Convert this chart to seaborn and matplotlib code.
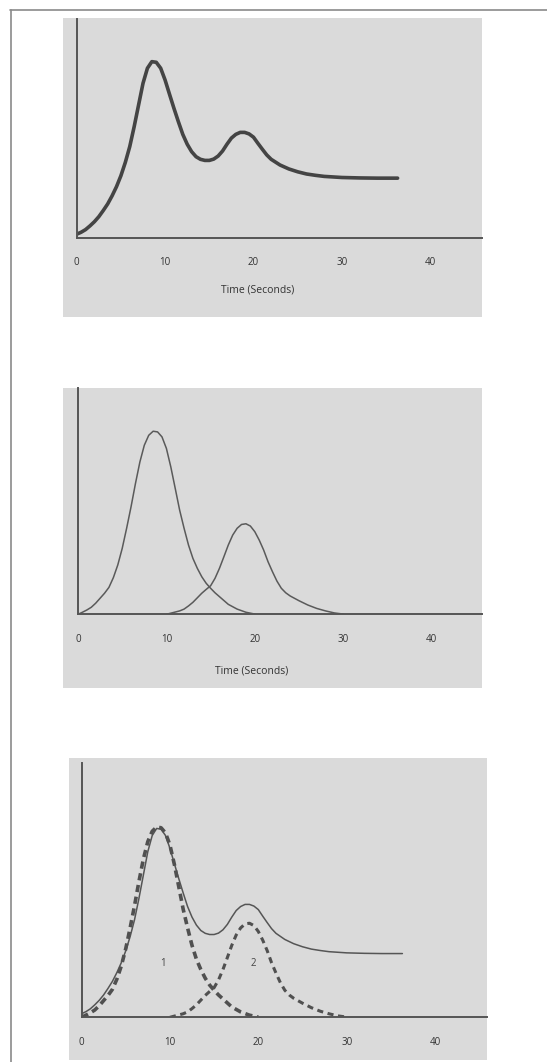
import matplotlib
matplotlib.use('Agg')
import matplotlib.pyplot as plt
from matplotlib.lines import Line2D
from matplotlib.patches import Rectangle
import seaborn as sns

# detector signal (arbitrary units), time in seconds
combined_t = [0, 0.5, 1, 1.5, 2, 2.5, 3, 3.5, 4, 4.5, 5, 5.5, 6, 6.5, 7, 7.5, 8, 8.5,
              9, 9.5, 10, 10.5, 11, 11.5, 12, 12.5, 13, 13.5, 14, 14.5, 15, 15.5, 16,
              16.5, 17, 17.5, 18, 18.5, 19, 19.5, 20, 20.5, 21, 21.5, 22, 23, 24, 25,
              26, 27, 28, 30, 32, 34, 36.3]
combined_y = [1.5, 2.4, 3.6, 5.3, 7.2, 9.5, 12.3, 15.3, 19, 23.2, 28.2, 34.3, 41.5,
              50.6, 60.5, 70.4, 77.3, 80.3, 80, 77.3, 71.9, 65.4, 59, 52.9, 47.1, 42.6,
              39.2, 36.9, 35.7, 35.2, 35.2, 35.8, 37.2, 39.5, 42.6, 45.4, 47.1, 48, 48,
              47.3, 45.8, 43, 40.3, 37.7, 35.7, 33.1, 31.3, 30, 29, 28.4, 27.9, 27.4,
              27.2, 27.1, 27.1]

peak1_t = [0, 0.5, 1, 1.5, 2, 2.5, 3, 3.5, 4, 4.5, 5, 5.5, 6, 6.5, 7, 7.5, 8, 8.5, 9,
           9.5, 10, 10.5, 11, 11.5, 12, 12.5, 13, 13.5, 14, 14.5, 15, 15.5, 16, 17, 18,
           19, 20]
peak1_y = [0, 0.9, 1.9, 3.1, 4.9, 7.1, 9.3, 11.9, 16.2, 21.8, 29.1, 38, 47.5, 57.8,
           67.3, 74.7, 79.1, 80.9, 80.6, 78.4, 73.3, 65.1, 55.6, 46, 38, 30.6, 24.7,
           20.3, 16.6, 13.7, 11.5, 9.5, 7.8, 4.4, 2.3, 0.9, 0.1]

peak2_t = [10, 11, 11.5, 12, 12.5, 13, 13.5, 14, 14.5, 15, 15.5, 16, 16.5, 17, 17.5,
           18, 18.5, 19, 19.5, 20, 20.5, 21, 21.5, 22, 22.5, 23, 23.5, 24, 25, 26, 27,
           28, 29, 30]
peak2_y = [0, 1, 1.5, 2.3, 3.7, 5.3, 7.3, 9.3, 11, 12.6, 15.9, 20.3, 25.4, 30.6, 35,
           38, 39.7, 40, 39, 36.5, 32.8, 28.4, 23.2, 18.8, 14.7, 11.5, 9.5, 8.1, 6,
           4.1, 2.6, 1.5, 0.6, 0.1]

time_ticks = [0, 10, 20, 30, 40]
time_label = 'Time (Seconds)'
peak_names = ['1', '2']
peak_name_t = [9.2, 19.4]
peak_name_y = [23, 23]

W, H = 547, 1062
PANEL = '#dadada'

sns.set_theme(style='white')
plt.rcParams['font.family'] = ['Open Sans', 'DejaVu Sans']

fig = plt.figure(figsize=(W / 100, H / 100), dpi=100)
fig.patch.set_facecolor('white')


def frac(x0, y0, x1, y1):
    # pixel box (top-left origin) -> figure fraction [l, b, w, h]
    return [x0 / W, 1 - y1 / H, (x1 - x0) / W, (y1 - y0) / H]


# page border (top and left only)
fig.add_artist(Line2D([10 / W, 1], [1 - 10 / H] * 2, color='#8a8a8a', lw=1.2))
fig.add_artist(Line2D([11 / W] * 2, [0, 1 - 10 / H], color='#8a8a8a', lw=1.2))

panels = [
    dict(gray=(63, 18, 482, 317), axes=(76.7, 18.5, 481.7, 237.5), ymax=100,
         label=(0.447, -0.215)),
    dict(gray=(63, 388, 481.5, 688), axes=(78, 388, 481.5, 614.3), ymax=100,
         label=(0.43, -0.225)),
    dict(gray=(69, 758, 487, 1060), axes=(81.5, 763.3, 486.7, 1017.3), ymax=108,
         label=None),
]

axes = []
for p in panels:
    l, b, w, h = frac(*p['gray'])
    fig.add_artist(Rectangle((l, b), w, h, transform=fig.transFigure,
                             facecolor=PANEL, edgecolor='none', zorder=-1))
    ax = fig.add_axes(frac(*p['axes']))
    ax.set_facecolor('none')
    x0, _, x1, _ = p['axes']
    ax.set_xlim(0, (x1 - x0) / 8.84)
    ax.set_ylim(0, p['ymax'])
    for s in ['top', 'right']:
        ax.spines[s].set_visible(False)
    for s in ['left', 'bottom']:
        ax.spines[s].set_color('#555555')
        ax.spines[s].set_linewidth(1.4)
    ax.set_xticks(time_ticks)
    ax.set_xticklabels([str(v) for v in time_ticks])
    ax.set_yticks([])
    ax.tick_params(axis='x', length=0, pad=14, labelsize=7, labelcolor='#333333')
    axes.append(ax)

ax1, ax2, ax3 = axes

# panel 1: the recorded trace
sns.lineplot(x=combined_t, y=combined_y, ax=ax1, color='#444444', lw=2.6,
             estimator=None, solid_joinstyle='round', solid_capstyle='round')

# panel 2: the two separate peaks
for t, y in [(peak1_t, peak1_y), (peak2_t, peak2_y)]:
    sns.lineplot(x=t, y=y, ax=ax2, color='#5a5a5a', lw=1.1, estimator=None,
                 solid_joinstyle='round')

# panel 3: trace with the resolved peaks dashed underneath
sns.lineplot(x=combined_t, y=combined_y, ax=ax3, color='#555555', lw=1.1,
             estimator=None, solid_joinstyle='round')
sns.lineplot(x=peak1_t, y=peak1_y, ax=ax3, color='#505050', lw=2.6, estimator=None,
             linestyle=(0, (2.0, 1.3)))
sns.lineplot(x=peak2_t, y=peak2_y, ax=ax3, color='#505050', lw=2.2, estimator=None,
             linestyle=(0, (2.0, 1.5)))
for name, t, y in zip(peak_names, peak_name_t, peak_name_y):
    ax3.text(t, y, name, ha='center', va='center', fontsize=7, color='#444444')

for ax, p in zip(axes, panels):
    ax.set_ylabel('')
    if p['label']:
        ax.set_xlabel(time_label, fontsize=7.5, color='#333333')
        ax.xaxis.set_label_coords(*p['label'])
    else:
        ax.set_xlabel('')

fig.savefig('out.png', dpi=100, facecolor='white')
